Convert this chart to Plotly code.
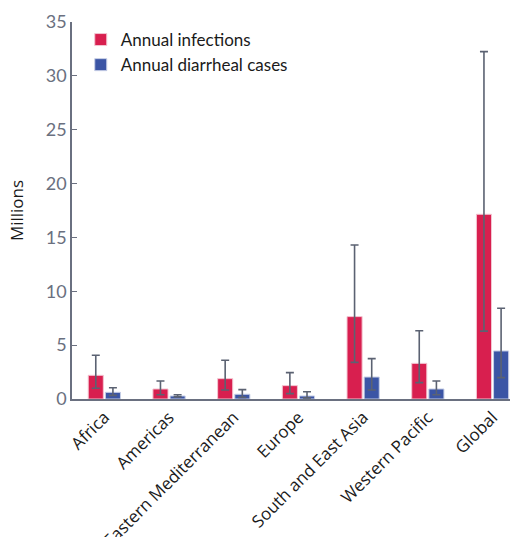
import plotly.graph_objects as go

# Regions (categories)
REGIONS = ['Africa', 'Americas', 'Eastern Mediterranean', 'Europe',
           'South and East Asia', 'Western Pacific', 'Global']

# Annual infections (millions) with lower / upper bounds
infections = [2.2, 0.93, 1.89, 1.24, 7.65, 3.31, 17.15]
infections_low = [1.0, 0.4, 0.84, 0.5, 3.4, 1.52, 6.3]
infections_high = [4.06, 1.67, 3.6, 2.45, 14.3, 6.34, 32.25]

# Annual diarrheal cases (millions) with lower / upper bounds
diarrheal = [0.62, 0.28, 0.44, 0.28, 2.04, 0.93, 4.46]
diarrheal_low = [0.34, 0.2, 0.15, 0.1, 0.84, 0.4, 1.98]
diarrheal_high = [1.05, 0.4, 0.87, 0.68, 3.75, 1.67, 8.42]

COLORS = {
    'red': '#d81f4f',
    'blue': '#3b55a5',
    'err': '#5b6272',
    'axis': '#6a7080',
}


def err_arrays(vals, lows, highs):
    plus = [h - v for v, h in zip(vals, highs)]
    minus = [v - l for v, l in zip(vals, lows)]
    return plus, minus


inf_plus, inf_minus = err_arrays(infections, infections_low, infections_high)
dia_plus, dia_minus = err_arrays(diarrheal, diarrheal_low, diarrheal_high)

fig = go.Figure()
fig.add_trace(go.Bar(
    x=REGIONS, y=infections, name='Annual infections',
    marker=dict(color=COLORS['red'], line=dict(color='#f3c6d2', width=1)),
    error_y=dict(type='data', symmetric=False, array=inf_plus, arrayminus=inf_minus,
                 color=COLORS['err'], thickness=1.6, width=4),
))
fig.add_trace(go.Bar(
    x=REGIONS, y=diarrheal, name='Annual diarrheal cases',
    marker=dict(color=COLORS['blue'], line=dict(color='#c7cfe6', width=1)),
    error_y=dict(type='data', symmetric=False, array=dia_plus, arrayminus=dia_minus,
                 color=COLORS['err'], thickness=1.6, width=4),
))

fig.update_layout(
    width=510, height=537,
    margin=dict(l=72, r=0, t=22, b=138),
    paper_bgcolor='#FFFFFF',
    plot_bgcolor='#FFFFFF',
    barmode='group',
    bargap=0.47,
    bargroupgap=0.12,
    font=dict(family='Open Sans', color='#1a1a1a', size=16),
    showlegend=True,
    legend=dict(
        x=0.02, y=1.0, xanchor='left', yanchor='top',
        bgcolor='rgba(0,0,0,0)',
        font=dict(family='Lato', size=17, color='#1a1a1a'),
        itemwidth=30, tracegroupgap=0,
    ),
    xaxis=dict(
        range=[-0.5, 6.27],
        tickangle=-45,
        automargin=False,
        tickfont=dict(family='Open Sans', size=17, color='#1a1a1a'),
        showline=True, linecolor=COLORS['axis'], linewidth=1.5,
        ticks='', showgrid=False, zeroline=False,
    ),
    yaxis=dict(
        range=[0, 35],
        dtick=5,
        title=dict(text='Millions', font=dict(family='Open Sans', size=17, color='#1a1a1a'),
                   standoff=18),
        tickfont=dict(family='Lato', size=18, color=COLORS['axis']),
        showline=True, linecolor=COLORS['axis'], linewidth=1.5,
        ticks='inside', ticklen=5, tickcolor=COLORS['axis'], tickwidth=1.2,
        showgrid=False, zeroline=False,
    ),
)

# drop the default 8px page margin so the figure fills the window
fig.write_html("out.html", config={'displayModeBar': False},
               post_script="document.body.style.margin='0px';")
